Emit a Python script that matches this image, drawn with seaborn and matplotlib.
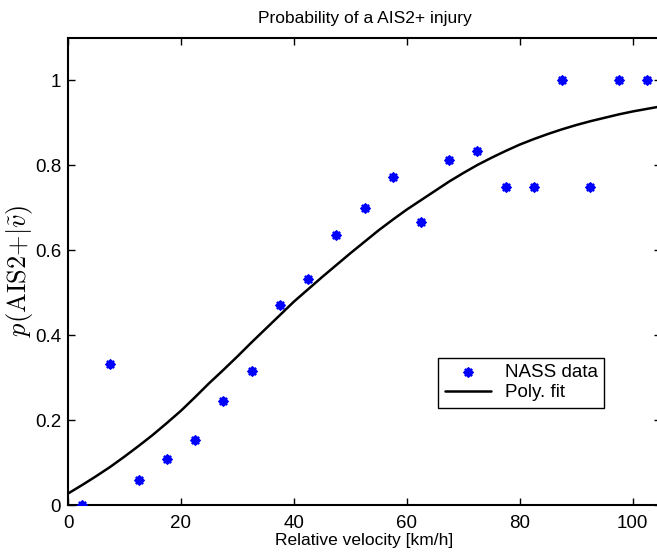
import matplotlib
matplotlib.use('Agg')
import matplotlib.pyplot as plt
import seaborn as sns
import pandas as pd

# NASS data (bin centres, km/h) and observed injury share
velocity = [2.5, 7.5, 12.5, 17.5, 22.5, 27.5, 32.5, 37.5, 42.5, 47.5, 52.5,
            57.5, 62.5, 67.5, 72.5, 77.5, 82.5, 87.5, 92.5, 97.5, 102.5]
p_nass = [0.0, 0.333, 0.059, 0.108, 0.153, 0.245, 0.315, 0.47, 0.533, 0.636, 0.70,
          0.772, 0.667, 0.8125, 0.833, 0.75, 0.75, 1.0, 0.75, 1.0, 1.0]

# polynomial fit curve
fit_v = [0, 2.5, 5, 7.5, 10, 12.5, 15, 17.5, 20, 22.5, 25, 27.5, 30, 32.5, 35, 37.5, 40,
         42.5, 45, 47.5, 50, 52.5, 55, 57.5, 60, 62.5, 65, 67.5, 70, 72.5, 75,
         77.5, 80, 82.5, 85, 87.5, 90, 92.5, 95, 97.5, 100, 102.5, 105]
fit_p = [0.027, 0.047, 0.068, 0.09, 0.114, 0.139, 0.165, 0.193, 0.222, 0.254, 0.287,
         0.318, 0.35, 0.383, 0.415, 0.447, 0.479, 0.508, 0.537, 0.565, 0.593,
         0.62, 0.647, 0.672, 0.696, 0.718, 0.74, 0.762, 0.782, 0.801, 0.818,
         0.834, 0.849, 0.862, 0.874, 0.885, 0.895, 0.904, 0.912, 0.92, 0.927,
         0.933, 0.939]

nass = pd.DataFrame({'v': velocity, 'p': p_nass})
fit = pd.DataFrame({'v': fit_v, 'p': fit_p})

sns.set_style('ticks')
plt.rcParams['font.family'] = ['Liberation Sans', 'DejaVu Sans']
plt.rcParams['mathtext.fontset'] = 'cm'
plt.rcParams['text.color'] = 'black'
plt.rcParams['axes.labelcolor'] = 'black'
plt.rcParams['xtick.color'] = 'black'
plt.rcParams['ytick.color'] = 'black'

fig = plt.figure(figsize=(6.57, 5.56), dpi=100)
ax = fig.add_axes([68 / 657, 51 / 556, 593 / 657, 467 / 556])

sns.scatterplot(data=nass, x='v', y='p', ax=ax, marker=(8, 2, 0), s=28,
                color='#0000ff', edgecolor='#0000ff', linewidth=2.0,
                label='NASS data', zorder=3)
sns.lineplot(data=fit, x='v', y='p', ax=ax, color='black', linewidth=1.8,
             label='Poly. fit')

ax.set_xlim(0, 105)
ax.set_ylim(0, 1.1)
ax.set_xticks([0, 20, 40, 60, 80, 100])
ax.set_yticks([0, 0.2, 0.4, 0.6, 0.8, 1])
ax.set_yticklabels(['0', '0.2', '0.4', '0.6', '0.8', '1'])
ax.tick_params(direction='in', top=True, right=True, length=5, width=1,
               labelsize=13.5)
ax.tick_params(axis='x', pad=7)
ax.tick_params(axis='y', pad=5)
for s in ax.spines.values():
    s.set_linewidth(1.5)
    s.set_visible(True)
    s.set_color('black')

ax.set_title('Probability of a AIS2+ injury', fontsize=12.5, pad=11)
ax.set_xlabel('Relative velocity [km/h]', fontsize=12.5, labelpad=1)
ax.set_ylabel(r'$p(\mathrm{AIS2}{+}|\tilde{v})$', fontsize=19, labelpad=0)

leg = ax.legend(loc='lower left', bbox_to_anchor=(0.624, 0.208),
                borderaxespad=0, fontsize=13.5, fancybox=False,
                edgecolor='black', framealpha=1, handlelength=2.5,
                borderpad=0.35, labelspacing=0.15, handletextpad=0.7)
leg.get_frame().set_linewidth(1.0)

fig.savefig('out.png', dpi=100)
